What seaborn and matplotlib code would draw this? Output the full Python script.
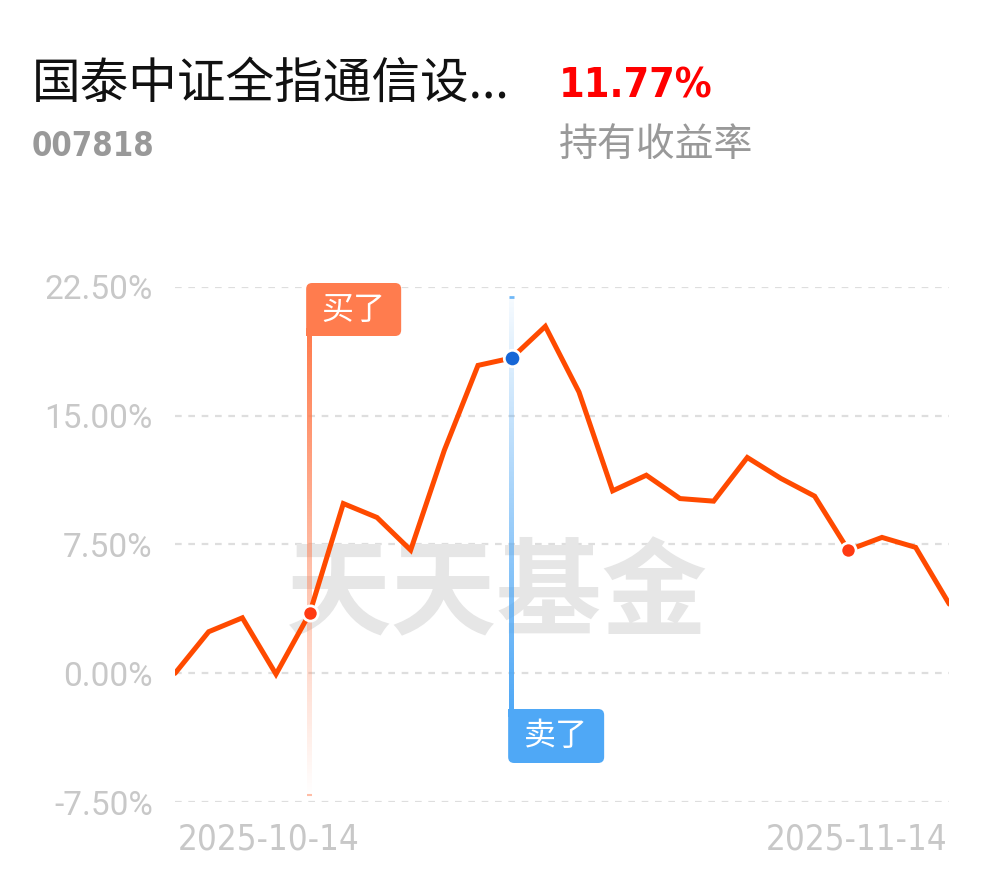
import numpy as np
import pandas as pd
import matplotlib
matplotlib.use("Agg")
import matplotlib.pyplot as plt
import seaborn as sns
from matplotlib.patches import FancyBboxPatch, Rectangle
from matplotlib.colors import to_rgb
from matplotlib import font_manager as fm

# ---------------- data ----------------
dates = ["2025-10-14", "2025-10-15", "2025-10-16", "2025-10-17", "2025-10-20",
         "2025-10-21", "2025-10-22", "2025-10-23", "2025-10-24", "2025-10-27",
         "2025-10-28", "2025-10-29", "2025-10-30", "2025-10-31", "2025-11-03",
         "2025-11-04", "2025-11-05", "2025-11-06", "2025-11-07", "2025-11-10",
         "2025-11-11", "2025-11-12", "2025-11-13", "2025-11-14"]
returns = [0.00, 2.42, 3.23, -0.05, 3.49, 9.88, 9.07, 7.17, 12.98, 17.92,
           18.35, 20.19, 16.37, 10.62, 11.53, 10.17, 10.02, 12.56, 11.34, 10.31,
           7.17, 7.91, 7.33, 4.03]
buy_index = 4
sell_index = 10
extra_dot_index = 20
y_ticks = [-7.5, 0.0, 7.5, 15.0, 22.5]
y_tick_labels = ["-7.50%", "0.00%", "7.50%", "15.00%", "22.50%"]
fund_name = "国泰中证全指通信设..."
fund_code = "007818"
hold_return = "11.77%"
hold_label = "持有收益率"
buy_text = "买了"
sell_text = "卖了"
watermark = "天天基金"

df = pd.DataFrame({"i": np.arange(len(returns)), "ret": returns, "date": dates})

# ---------------- figure ----------------
sns.set_theme(style="white")
plt.rcParams['font.family'] = ['Noto Sans CJK SC', 'DejaVu Sans']

# condensed font for numbers if available
cond_fp = None
for f in fm.fontManager.ttflist:
    if f.name == "DejaVu Sans" and f.stretch in ("condensed", 300, "semi-condensed"):
        cond_fp = f
        break
if cond_fp is None:
    for f in fm.fontManager.ttflist:
        if "Condensed" in f.name or "Narrow" in f.name:
            cond_fp = f
            break
cond_family = cond_fp.name if cond_fp is not None else "DejaVu Sans"
cond_kw = dict(family=[cond_family, 'DejaVu Sans'], fontstretch="condensed")

W, H = 994, 876
fig = plt.figure(figsize=(W / 100, H / 100), dpi=100)
ax_left, ax_right = 175, 949.3
ax_top, ax_bot = 286.7, 802.2
ax = fig.add_axes([ax_left / W, 1 - ax_bot / H, (ax_right - ax_left) / W, (ax_bot - ax_top) / H])
xmin, xmax = 0, len(returns) - 1
ymin, ymax = -7.5, 22.5
pxx = (ax_right - ax_left) / (xmax - xmin)   # pixels per x unit
pxy = (ax_bot - ax_top) / (ymax - ymin)      # pixels per y unit

for s in ax.spines.values():
    s.set_visible(False)

# grid lines
for t in y_ticks:
    ax.axhline(t, color="#dedede", lw=1.6, ls=(0, (3, 3)), zorder=0)

# watermark
ax.text(0.416, 0.40, watermark, transform=ax.transAxes, ha="center", va="center",
        fontsize=76, color="#e6e6e6", fontweight="bold", zorder=1,
        family=['Noto Sans CJK SC'])

# gradient vertical lines
def vgrad(x, y0, y1, color, a0, a1, width_px=5):
    rgb = to_rgb(color)
    n = 256
    alpha = np.linspace(a0, a1, n)  # from y0 (bottom) to y1 (top)
    img = np.zeros((n, 1, 4))
    img[:, 0, :3] = rgb
    img[:, 0, 3] = alpha
    w = width_px / pxx
    ax.imshow(img, extent=[x - w / 2, x + w / 2, y0, y1], origin="lower",
              aspect="auto", interpolation="bilinear", zorder=2, clip_on=False)

buy_color = "#FF7C4E"
sell_color = "#4FA8F6"
sell_y = returns[sell_index]

buy_top = ymax - (336 - ax_top) / pxy
buy_bottom = ymax - (795 - ax_top) / pxy
vgrad(buy_index, buy_bottom, buy_top, buy_color, 0.0, 1.0)
ax.plot([buy_index - 2.5 / pxx, buy_index + 2.5 / pxx], [buy_bottom, buy_bottom],
        color=buy_color, lw=1.5, alpha=0.5, zorder=2, solid_capstyle="butt")
sell_top = ymax - (297 - ax_top) / pxy
sell_bottom = ymax - (712 - ax_top) / pxy
vgrad(sell_index, sell_bottom, sell_top, sell_color, 1.0, 0.05)
ax.plot([sell_index - 2.5 / pxx, sell_index + 2.5 / pxx], [sell_top, sell_top],
        color=sell_color, lw=2, alpha=0.8, zorder=2, solid_capstyle="butt")

# main line
sns.lineplot(data=df, x="i", y="ret", ax=ax, color="#FF4A00", lw=3.6, zorder=3,
             solid_joinstyle="miter", solid_capstyle="round")

# markers
ax.scatter([buy_index, extra_dot_index], [returns[buy_index], returns[extra_dot_index]],
           s=120, color="#FF3A12", edgecolor="white", linewidth=2, zorder=5)
ax.scatter([sell_index], [sell_y], s=140, color="#1666D6", edgecolor="white",
           linewidth=2, zorder=5)

# label boxes
def label_box(x_left_px_off, y_top_px, w_px, h_px, anchor_x, color, text, square_corner):
    x0 = anchor_x + x_left_px_off / pxx
    y_top = ymax - (y_top_px - ax_top) / pxy
    h = h_px / pxy
    w = w_px / pxx
    r = 6
    box = FancyBboxPatch((x0, y_top - h), w, h,
                         boxstyle=f"round,pad=0,rounding_size={r / pxx}",
                         mutation_aspect=pxx / pxy,
                         facecolor=color, edgecolor="none", zorder=6, clip_on=False)
    ax.add_patch(box)
    sq_w = 8 / pxx
    sq_h = 8 / pxy
    if square_corner == "bl":
        ax.add_patch(Rectangle((x0, y_top - h), sq_w, sq_h, facecolor=color,
                               edgecolor="none", zorder=6, clip_on=False))
    else:
        ax.add_patch(Rectangle((x0, y_top - sq_h), sq_w, sq_h, facecolor=color,
                               edgecolor="none", zorder=6, clip_on=False))
    ax.text(x0 + w / 2, y_top - h / 2, text, ha="center", va="center", color="white",
            fontsize=23, zorder=7, clip_on=False)

label_box(-3.5, 283, 95, 53, buy_index, buy_color, buy_text, "bl")
label_box(-3.5, 709, 96, 54, sell_index, sell_color, sell_text, "tl")

# axes formatting
ax.set_xlim(xmin, xmax)
ax.set_ylim(ymin, ymax)
ax.set_yticks(y_ticks)
ax.set_yticklabels(y_tick_labels, color="#c8c8c8", fontsize=24,
                   family=['Roboto', 'DejaVu Sans'])
ax.tick_params(axis="y", length=0, pad=16)
ax.set_xticks([])
ax.set_xlabel("")
ax.set_ylabel("")

# date labels
fig.text(178 / W, 1 - 840 / H, dates[0], ha="left", va="center", fontsize=25,
         color="#c8c8c8", **cond_kw)
fig.text(947 / W, 1 - 840 / H, dates[-1], ha="right", va="center", fontsize=25,
         color="#c8c8c8", **cond_kw)

# header texts
fig.text(32 / W, 1 - 84 / H, fund_name, ha="left", va="center", fontsize=35, color="#111111")
fig.text(32 / W, 1 - 146 / H, fund_code, ha="left", va="center", fontsize=23.5,
         color="#999999", fontweight="bold", **cond_kw)
fig.text(559 / W, 1 - 86 / H, hold_return, ha="left", va="center", fontsize=29.5,
         color="#FF0000", fontweight="bold", **cond_kw)
fig.text(559 / W, 1 - 145 / H, hold_label, ha="left", va="center", fontsize=28, color="#999999")

fig.savefig("out.png", dpi=100, facecolor="white")
